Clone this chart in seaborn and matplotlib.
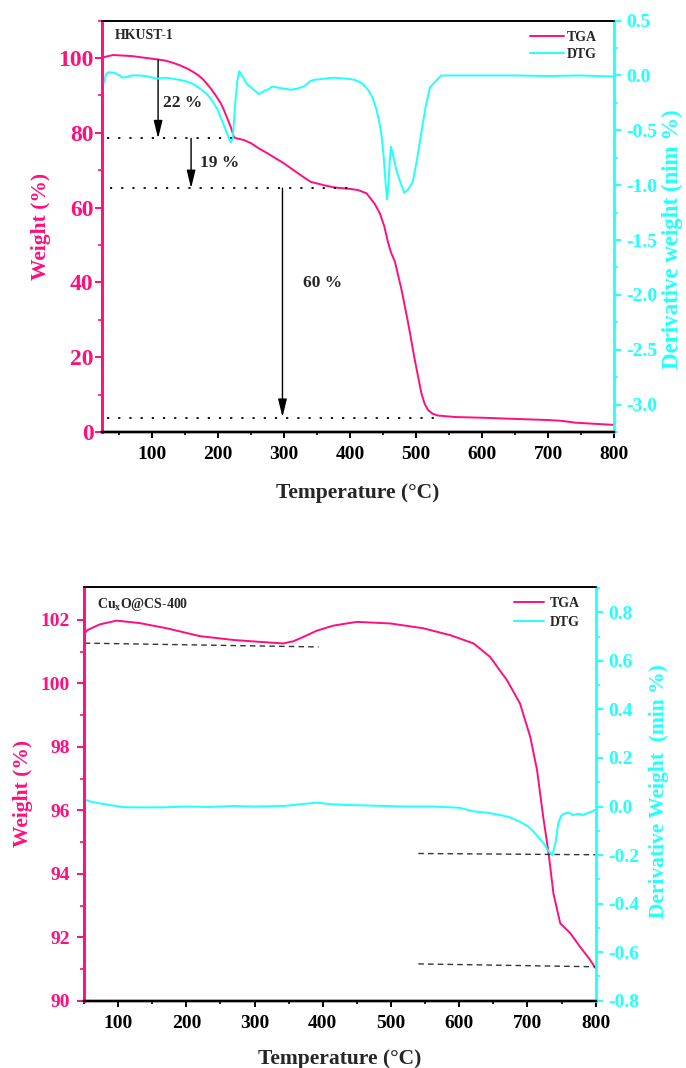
import numpy as np
import pandas as pd
import matplotlib
matplotlib.use("Agg")
import matplotlib.pyplot as plt
import seaborn as sns

# ---------------- data ----------------
# HKUST-1 : TGA
hk_tga_T = [26, 41, 70, 109, 120, 130, 140, 153, 162, 170, 177, 183, 190, 197, 204, 209, 214,
            219, 222, 224, 228, 234, 240, 250, 262, 275, 300, 320, 340, 360, 376, 400, 412,
            425, 437, 445, 452, 457, 462, 468, 478, 488, 498, 508, 513, 518, 525, 533, 560,
            604, 650, 700, 720, 741, 770, 800]
hk_tga_W = [100.2, 100.8, 100.5, 99.6, 99.3, 98.8, 98.2, 97.2, 96.3, 95.4, 94.3, 93.1, 91.6,
            89.8, 87.9, 86.0, 83.8, 81.6, 80.0, 78.8, 78.5, 78.3, 78.0, 77.2, 75.8, 74.5, 71.8,
            69.3, 66.9, 66.0, 65.4, 65.0, 64.7, 63.8, 61.1, 58.5, 54.9, 51.0, 48.0, 45.5, 38.0,
            29.1, 19.3, 10.4, 7.5, 5.9, 4.9, 4.4, 4.0, 3.8, 3.5, 3.2, 3.0, 2.5, 2.2, 1.9]
# HKUST-1 : DTG
hk_dtg_T = [26, 30, 34, 45, 56, 70, 82, 95, 107, 120, 132, 150, 163, 175, 183, 192, 199, 209,
            215, 219, 222, 226, 229, 232, 237, 244, 252, 262, 270, 275, 282, 290, 300, 310,
            320, 330, 340, 346, 360, 376, 396, 407, 418, 427, 434, 440, 445, 448, 451, 454,
            456, 458, 460, 462, 466, 470, 476, 482, 488, 495, 501, 508, 514, 521, 530, 538,
            560, 600, 650, 700, 750, 800]
hk_dtg_D = [-0.08, 0.01, 0.03, 0.02, -0.02, 0.0, 0.0, -0.01, -0.03, -0.02, -0.03, -0.05,
            -0.08, -0.13, -0.17, -0.24, -0.31, -0.46, -0.55, -0.61, -0.58, -0.25, -0.05, 0.04,
            -0.01, -0.08, -0.12, -0.17, -0.14, -0.13, -0.10, -0.11, -0.12, -0.13, -0.12, -0.10,
            -0.05, -0.04, -0.03, -0.02, -0.03, -0.04, -0.07, -0.13, -0.20, -0.31, -0.45, -0.56,
            -0.75, -1.0, -1.13, -1.0, -0.78, -0.65, -0.75, -0.86, -0.97, -1.07, -1.04, -0.97,
            -0.78, -0.52, -0.30, -0.11, -0.05, 0.0, 0.0, 0.0, 0.0, -0.005, 0.0, -0.01]

# CuxO@CS-400 : TGA
cs_tga_T = [50, 55, 73, 98, 132, 171, 220, 269, 308, 342, 357, 375, 391, 415, 435, 450, 499,
            547, 587, 621, 645, 670, 689, 704, 714, 723, 731, 738, 748, 763, 777, 790, 800]
cs_tga_W = [101.55, 101.68, 101.86, 101.98, 101.9, 101.74, 101.49, 101.37, 101.31, 101.26,
            101.33, 101.5, 101.66, 101.82, 101.89, 101.94, 101.89, 101.74, 101.52, 101.26,
            100.84, 100.1, 99.37, 98.32, 97.27, 95.8, 94.64, 93.38, 92.44, 92.12, 91.7, 91.34,
            91.02]
# CuxO@CS-400 : DTG
cs_dtg_T = [50, 60, 73, 90, 110, 140, 171, 200, 230, 269, 300, 342, 370, 391, 410, 440, 480,
            520, 560, 600, 621, 640, 660, 675, 689, 700, 709, 717, 724, 730, 733, 736, 738,
            741, 745, 749, 753, 760, 767, 775, 782, 790, 800]
cs_dtg_D = [0.03, 0.02, 0.013, 0.005, -0.003, -0.004, -0.003, 0.0, -0.002, 0.002, 0.0, 0.002,
            0.01, 0.016, 0.01, 0.006, 0.003, 0.0, 0.0, -0.005, -0.02, -0.025, -0.035, -0.045,
            -0.063, -0.08, -0.104, -0.13, -0.152, -0.18, -0.19, -0.20, -0.185, -0.15, -0.07,
            -0.04, -0.03, -0.025, -0.035, -0.03, -0.035, -0.025, -0.014]

# annotation values
hk_levels = [78.5, 65.2, 3.7]
hk_level_x = [(31, 224), (36, 405), (31, 532)]
hk_arrows = [(109, 99.5, 78.5), (159, 78.5, 65.2), (297.5, 65.2, 4.0)]
hk_texts = [("22 %", 117, 88.0), ("19 %", 173, 71.9), ("60 %", 328, 39.8)]
cs_dash = [((51, 394), (101.27, 101.15)), ((540, 800), (94.64, 94.60)), ((540, 800), (91.16, 91.07))]

# ---------------- style ----------------
sns.set_style("ticks")
plt.rcParams["font.family"] = ["Liberation Serif", "DejaVu Serif"]
plt.rcParams["font.weight"] = "bold"
plt.rcParams["mathtext.fontset"] = "custom"
plt.rcParams["mathtext.rm"] = "Liberation Serif:bold"
plt.rcParams["mathtext.bf"] = "Liberation Serif:bold"
plt.rcParams["mathtext.it"] = "Liberation Serif:bold"

PINK = "#FF0F7B"
CYAN = "#22FFFF"

fig = plt.figure(figsize=(6.86, 10.68), dpi=100)


def fmt1(v):
    v = 0.0 if abs(v) < 1e-9 else v
    return f"{v:.1f}"


def style_axes(ax, ax2, lfs, rfs, xfs, lpad, rpad, xpad):
    for a in (ax, ax2):
        a.spines["left"].set_color(PINK)
        a.spines["left"].set_linewidth(1.9)
        a.spines["top"].set_color("black")
        a.spines["top"].set_linewidth(1.2)
        a.spines["bottom"].set_linewidth(1.7)
        a.spines["bottom"].set_color("black")
    ax2.spines["right"].set_color(CYAN)
    ax2.spines["right"].set_linewidth(2.0)
    ax.spines["right"].set_visible(False)
    ax.tick_params(axis="y", which="major", colors=PINK, direction="out", length=5, width=1.4,
                   labelsize=lfs, pad=lpad)
    ax.tick_params(axis="y", which="minor", colors=PINK, direction="out", length=3, width=1.2)
    ax.tick_params(axis="x", which="major", colors="black", direction="out", length=4, width=1.4,
                   labelsize=xfs, pad=xpad)
    ax.tick_params(axis="x", which="minor", colors="black", direction="out", length=2.5, width=1.2)
    ax2.tick_params(axis="y", which="major", colors=CYAN, direction="out", length=5, width=1.4,
                    labelsize=rfs, pad=rpad)
    ax2.tick_params(axis="y", which="minor", colors=CYAN, direction="out", length=3, width=1.2)
    for lab in ax.get_xticklabels() + ax.get_yticklabels() + ax2.get_yticklabels():
        lab.set_fontweight("bold")


# ================= TOP PANEL =================
ax1 = fig.add_axes([0.1487, 0.5955, 0.7464, 0.3852])
ax1b = ax1.twinx()
df1 = pd.DataFrame({"T": hk_tga_T, "W": hk_tga_W})
df1d = pd.DataFrame({"T": hk_dtg_T, "D": hk_dtg_D})
sns.lineplot(data=df1, x="T", y="W", ax=ax1, color=PINK, lw=1.4, sort=False, estimator=None,
             label="TGA", legend=False)
sns.lineplot(data=df1d, x="T", y="D", ax=ax1b, color=CYAN, lw=1.4, sort=False, estimator=None,
             label="DTG", legend=False)
ax1.set_xlim(24, 800)
ax1.set_ylim(0, 110)
ax1b.set_ylim(-3.25, 0.5)
ax1.set_xticks(np.arange(100, 801, 100))
ax1.set_xticks(np.arange(50, 801, 100), minor=True)
ax1.set_yticks(np.arange(0, 101, 20))
ax1.set_yticks(np.arange(10, 111, 20), minor=True)
rt1 = np.round(np.arange(-3.0, 0.51, 0.5), 2)
ax1b.set_yticks(rt1)
ax1b.set_yticks(np.arange(-3.25, 0.5, 0.5), minor=True)
ax1b.set_yticklabels([fmt1(v) for v in rt1])
style_axes(ax1, ax1b, 17, 14, 14, 1, 4, 6)
ax1.set_xlabel("Temperature (°C)", fontsize=15.5, fontweight="bold")
ax1.xaxis.set_label_coords(0.5, -0.123)
ax1.set_ylabel("Weight (%)", fontsize=15.5, fontweight="bold", color=PINK)
ax1.yaxis.set_label_coords(-0.100, 0.499)
ax1b.set_ylabel("Derivative weight (nim %)", fontsize=16.5, fontweight="bold", color=CYAN)
ax1b.yaxis.set_label_coords(1.093, 0.469)

dot = (0, (1.2, 5))
for lvl, (x0, x1) in zip(hk_levels, hk_level_x):
    ax1.plot([x0, x1], [lvl, lvl], color="black", lw=1.3, linestyle=dot)
for x, y0, y1 in hk_arrows:
    ax1.annotate("", xy=(x, y1), xytext=(x, y0),
                 arrowprops=dict(arrowstyle="-|>,head_length=0.9,head_width=0.22", color="black",
                                 lw=1.0, shrinkA=0, shrinkB=0, mutation_scale=12))
for t, x, y in hk_texts:
    ax1.text(x, y, t, fontsize=12.5, fontweight="bold", ha="left", va="center")
ax1.text(44, 106, "HKUST-1", fontsize=10, fontweight="bold", ha="left", va="center")

h1, l1 = ax1.get_legend_handles_labels()
h2, l2 = ax1b.get_legend_handles_labels()
leg = ax1b.legend(h1 + h2, l1 + l2, loc="upper right", bbox_to_anchor=(0.967, 0.975),
                  frameon=False, fontsize=10, handlelength=2.4, handletextpad=0.25,
                  labelspacing=0.3, borderpad=0, borderaxespad=0)
for t in leg.get_texts():
    t.set_fontweight("bold")

# ================= BOTTOM PANEL =================
ax2 = fig.add_axes([0.1224, 0.0630, 0.746, 0.3871])
ax2b = ax2.twinx()
df2 = pd.DataFrame({"T": cs_tga_T, "W": cs_tga_W})
df2d = pd.DataFrame({"T": cs_dtg_T, "D": cs_dtg_D})
sns.lineplot(data=df2, x="T", y="W", ax=ax2, color=PINK, lw=1.4, sort=False, estimator=None,
             label="TGA", legend=False)
sns.lineplot(data=df2d, x="T", y="D", ax=ax2b, color=CYAN, lw=1.4, sort=False, estimator=None,
             label="DTG", legend=False)
ax2.set_xlim(50, 800)
ax2.set_ylim(90, 103.03)
ax2b.set_ylim(-0.8, 0.903)
ax2.set_xticks(np.arange(100, 801, 100))
ax2.set_xticks(np.arange(50, 801, 100), minor=True)
ax2.set_yticks(np.arange(90, 103, 2))
ax2.set_yticks(np.arange(91, 103, 2), minor=True)
rt2 = np.round(np.arange(-0.8, 0.81, 0.2), 1)
ax2b.set_yticks(rt2)
ax2b.set_yticks(np.round(np.arange(-0.7, 0.91, 0.2), 1), minor=True)
ax2b.set_yticklabels([fmt1(v) for v in rt2])
style_axes(ax2, ax2b, 14, 14, 14, 5, 4, 6)
ax2.set_xlabel("Temperature (°C)", fontsize=15.5, fontweight="bold")
ax2.xaxis.set_label_coords(0.5, -0.118)
ax2.set_ylabel("Weight (%)", fontsize=15.5, fontweight="bold", color=PINK)
ax2.yaxis.set_label_coords(-0.100, 0.502)
ax2b.set_ylabel("Derivative Weight  (min %)", fontsize=15.5, fontweight="bold", color=CYAN)
ax2b.yaxis.set_label_coords(1.104, 0.508)

for (x0, x1), (y0, y1) in cs_dash:
    ax2.plot([x0, x1], [y0, y1], color="#333333", lw=1.0, linestyle=(0, (4, 3)))
ax2.text(69, 102.5, r"Cu$_\mathbf{x}$O@CS-400", fontsize=10, fontweight="bold", ha="left", va="center")

h1, l1 = ax2.get_legend_handles_labels()
h2, l2 = ax2b.get_legend_handles_labels()
leg = ax2b.legend(h1 + h2, l1 + l2, loc="upper right", bbox_to_anchor=(0.969, 0.977),
                  frameon=False, fontsize=10, handlelength=2.2, handletextpad=0.4,
                  labelspacing=0.45, borderpad=0, borderaxespad=0)
for t in leg.get_texts():
    t.set_fontweight("bold")

fig.savefig("out.png", dpi=100)
